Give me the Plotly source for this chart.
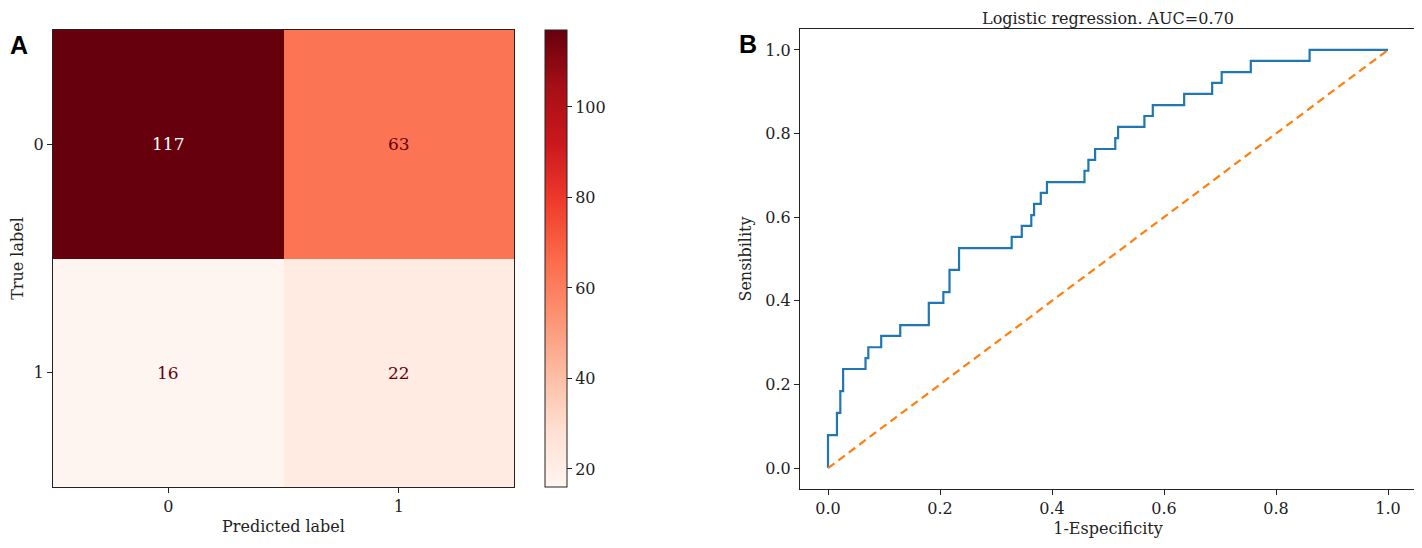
import plotly.graph_objects as go
import plotly.express as px

# ---- Confusion matrix data ----
cm_labels = ["0", "1"]
cm_values = [[117, 63],
             [16, 22]]
cbar_ticks = [20, 40, 60, 80, 100]

# ---- ROC curve data (corner points, step curve) ----
roc_fpr = [0.0, 0.0, 0.016, 0.022, 0.027, 0.067, 0.072, 0.095, 0.129, 0.180,
           0.206, 0.217, 0.234, 0.328, 0.346, 0.363, 0.368, 0.380, 0.391,
           0.458, 0.465, 0.477, 0.513, 0.518, 0.565, 0.580, 0.636, 0.686,
           0.703, 0.755, 0.860, 1.0]
roc_tpr = [0.0, 0.079, 0.132, 0.184, 0.237, 0.263, 0.289, 0.316, 0.342, 0.395,
           0.421, 0.474, 0.526, 0.553, 0.579, 0.605, 0.632, 0.658, 0.684,
           0.711, 0.737, 0.763, 0.789, 0.816, 0.842, 0.868, 0.895, 0.921,
           0.947, 0.974, 1.0, 1.0]
diag_x = [0.0, 1.0]
diag_y = [0.0, 1.0]
roc_ticks = [0.0, 0.2, 0.4, 0.6, 0.8, 1.0]
auc_title = "Logistic regression. AUC=0.70"

OFF = 8  # browser body margin
W, H = 1422 - OFF, 548 - OFF
SERIF = "DejaVu Serif"
FS = 16
fx = lambda p: (p - OFF) / W
fy = lambda p: 1 - (p - OFF) / H

fig = go.Figure()

zmin = min(min(r) for r in cm_values)
zmax = max(max(r) for r in cm_values)
reds = px.colors.sequential.Reds

fig.add_trace(go.Heatmap(
    z=cm_values, x=[0, 1], y=[0, 1],
    colorscale=reds, zmin=zmin, zmax=zmax,
    xaxis="x", yaxis="y", hoverinfo="skip",
    colorbar=dict(
        x=fx(545), xanchor="left", xpad=0, ypad=0,
        y=fy(487), yanchor="bottom",
        len=(487 - 30) / H, lenmode="fraction",
        thickness=22, thicknessmode="pixels",
        outlinewidth=1, outlinecolor="#222",
        tickvals=cbar_ticks, ticks="outside", ticklen=5, tickcolor="#222",
        tickfont=dict(family=SERIF, size=FS, color="#222"),
    ),
))

# cell annotations
thresh = (zmin + zmax) / 2
for i, row in enumerate(cm_values):
    for j, v in enumerate(row):
        fig.add_annotation(
            x=j, y=i, xref="x", yref="y", text=str(v), showarrow=False,
            font=dict(family=SERIF, size=17,
                      color="white" if v > thresh else "#67000d"))

fig.add_trace(go.Scatter(
    x=roc_fpr, y=roc_tpr, mode="lines", line=dict(color="#1f77b4", width=2.2, shape="hv"),
    xaxis="x2", yaxis="y2", showlegend=False, hoverinfo="skip"))
fig.add_trace(go.Scatter(
    x=diag_x, y=diag_y, mode="lines",
    line=dict(color="#ff7f0e", width=2.2, dash="8px,5px"),
    xaxis="x2", yaxis="y2", showlegend=False, hoverinfo="skip"))

axis_common = dict(showline=True, linecolor="#222", linewidth=1, mirror=True,
                   ticks="outside", ticklen=5, tickcolor="#222", showgrid=False,
                   zeroline=False,
                   tickfont=dict(family=SERIF, size=FS, color="#222"),
                   title_font=dict(family=SERIF, size=FS, color="#222"))

fig.update_layout(
    width=W, height=H,
    margin=dict(l=0, r=0, t=0, b=0, autoexpand=False),
    paper_bgcolor="white", plot_bgcolor="white",
    showlegend=False,
    xaxis=dict(axis_common, domain=[fx(53), fx(514)], range=[-0.5, 1.5],
               tickvals=[0, 1], ticktext=cm_labels, anchor="y",
               title=dict(text="Predicted label", standoff=5)),
    yaxis=dict(axis_common, domain=[fy(487), fy(30)], range=[1.5, -0.5],
               tickvals=[0, 1], ticktext=cm_labels, anchor="x",
               title=dict(text="True label", standoff=11)),
    xaxis2=dict(axis_common, domain=[fx(800), fx(1416)], range=[-0.05, 1.05],
                tickvals=roc_ticks, tickformat=".1f", anchor="y2",
                title=dict(text="1-Especificity", standoff=5)),
    yaxis2=dict(axis_common, domain=[fy(489), fy(29)], range=[-0.05, 1.05],
                tickvals=roc_ticks, tickformat=".1f", anchor="x2",
                title=dict(text="Sensibility", standoff=9)),
)

fig.add_annotation(x=fx(1108), y=1, xref="paper", yref="paper", text=auc_title,
                   xanchor="center", yanchor="top", borderpad=0,
                   showarrow=False, font=dict(family=SERIF, size=16, color="#222"))
fig.add_annotation(x=fx(19), y=fy(45), xref="paper", yref="paper", text="<b>A</b>",
                   xanchor="center", yanchor="middle",
                   showarrow=False, font=dict(family="Liberation Sans", size=25, color="black"))
fig.add_annotation(x=fx(748), y=fy(44), xref="paper", yref="paper", text="<b>B</b>",
                   xanchor="center", yanchor="middle",
                   showarrow=False, font=dict(family="Liberation Sans", size=25, color="black"))

fig.write_html("out.html")
